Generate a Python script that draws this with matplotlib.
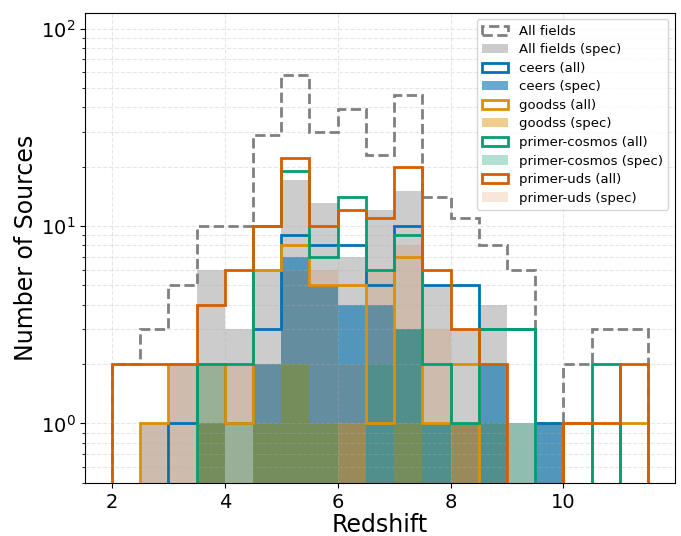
import numpy as np
import matplotlib
matplotlib.use("Agg")
import matplotlib.pyplot as plt

# bin edges (redshift) and counts per bin
bin_edges = [2.0, 2.5, 3.0, 3.5, 4.0, 4.5, 5.0, 5.5, 6.0, 6.5, 7.0,
             7.5, 8.0, 8.5, 9.0, 9.5, 10.0, 10.5, 11.0, 11.5]

all_fields = [2, 3, 5, 10, 10, 29, 58, 30, 39, 23, 46, 14, 11, 8, 6, 1, 2, 3, 3]
all_fields_spec = [0, 1, 2, 6, 3, 6, 17, 13, 7, 12, 15, 5, 3, 4, 1, 1, 0, 0, 0]

ceers_all = [0, 0, 1, 2, 1, 3, 9, 8, 8, 5, 10, 5, 5, 3, 3, 1, 0, 0, 0]
ceers_spec = [0, 0, 0, 1, 0, 2, 7, 5, 4, 4, 3, 1, 1, 2, 0, 1, 0, 0, 0]

goodss_all = [0, 1, 2, 2, 1, 6, 8, 5, 5, 1, 7, 1, 2, 0, 0, 0, 1, 0, 1]
goodss_spec = [0, 0, 0, 1, 0, 1, 2, 1, 1, 0, 1, 0, 1, 0, 0, 0, 0, 0, 0]

cosmos_all = [0, 0, 0, 2, 2, 10, 19, 7, 14, 6, 9, 2, 1, 3, 3, 0, 0, 2, 0]
cosmos_spec = [0, 0, 0, 2, 1, 1, 2, 1, 0, 2, 3, 1, 0, 1, 1, 0, 0, 0, 0]

uds_all = [2, 2, 2, 4, 6, 10, 22, 10, 12, 11, 20, 6, 3, 2, 0, 0, 1, 1, 2]
uds_spec = [0, 1, 2, 2, 2, 2, 6, 6, 2, 6, 8, 3, 1, 1, 0, 0, 0, 0, 0]

campos = ["ceers", "goodss", "primer-cosmos", "primer-uds"]
cores = ["#0173b2", "#de8f05", "#029e73", "#d55e00"]
alfas = [0.6, 0.45, 0.3, 0.15]

edges = np.array(bin_edges)
centros = (edges[:-1] + edges[1:]) / 2

fig, ax = plt.subplots(figsize=(6.81, 5.36), dpi=100)
ax.set_yscale("log", nonpositive="clip")

ax.hist(centros, bins=edges, weights=all_fields, histtype="step",
        color="gray", ls="--", lw=2, label="All fields")
ax.hist(centros, bins=edges, weights=all_fields_spec, histtype="stepfilled",
        color="gray", alpha=0.4, label="All fields (spec)")

dados = [(ceers_all, ceers_spec), (goodss_all, goodss_spec),
         (cosmos_all, cosmos_spec), (uds_all, uds_spec)]
for nome, cor, a, (tot, spec) in zip(campos, cores, alfas, dados):
    ax.hist(centros, bins=edges, weights=tot, histtype="step",
            color=cor, lw=2, label=f"{nome} (all)")
    ax.hist(centros, bins=edges, weights=spec, histtype="stepfilled",
            color=cor, alpha=a, label=f"{nome} (spec)")

ax.set_xlim(1.525, 11.975)
ax.set_ylim(0.5, 120)
ax.set_xticks([2, 4, 6, 8, 10])
ax.tick_params(axis="both", which="major", labelsize=14)
ax.set_xlabel("Redshift", fontsize=17, labelpad=1)
ax.set_ylabel("Number of Sources", fontsize=17, labelpad=2)
ax.grid(True, which="both", ls="--", alpha=0.3)
ax.legend(loc="upper right", fontsize=9.5, labelspacing=0.42)

plt.subplots_adjust(left=0.125, right=0.991, bottom=0.099, top=0.976)
plt.savefig("out.png")
